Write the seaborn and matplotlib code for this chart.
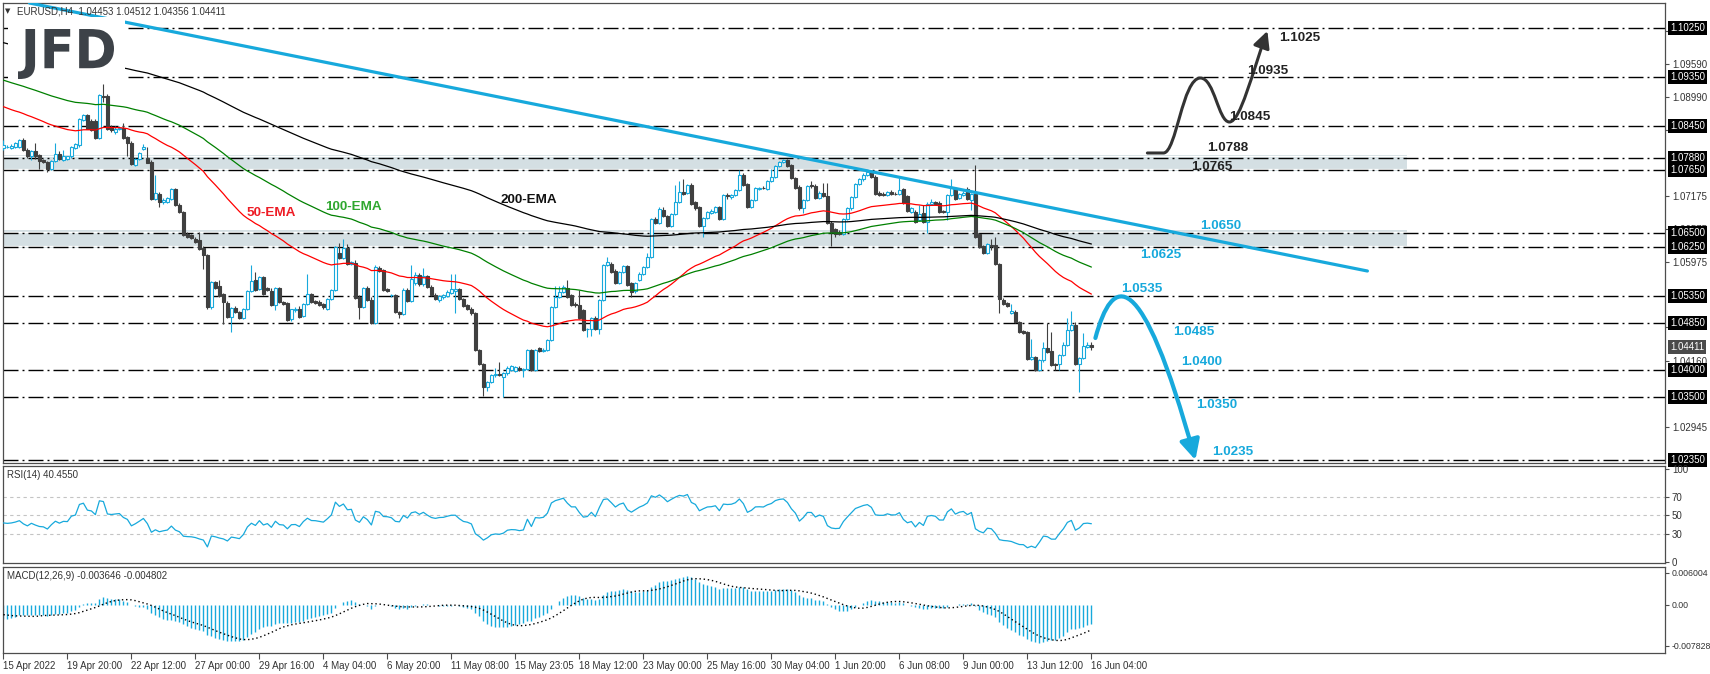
import numpy as np
import pandas as pd
import matplotlib
matplotlib.use("Agg")
import matplotlib.pyplot as plt
import matplotlib.transforms as mtransforms
from matplotlib.path import Path
from matplotlib.patches import FancyArrowPatch, Rectangle, PathPatch
from matplotlib.textpath import TextPath
from matplotlib.font_manager import FontProperties
import seaborn as sns

# ---------------- data (EURUSD H4) ----------------
opens = [
    1.0806,1.0808,1.0806,1.0808,1.0808,1.0821,1.0802,1.0790,1.0800,1.0793,
    1.0783,1.0780,1.0768,1.0782,1.0794,1.0783,1.0786,1.0790,1.0806,1.0811,
    1.0857,1.0865,1.0854,1.0854,1.0824,1.0901,1.0901,1.0844,1.0835,1.0840,
    1.0843,1.0826,1.0814,1.0774,1.0786,1.0804,1.0788,1.0780,1.0713,1.0722,
    1.0707,1.0707,1.0712,1.0730,1.0702,1.0689,1.0649,1.0646,1.0640,1.0637,
    1.0623,1.0610,1.0514,1.0560,1.0553,1.0538,1.0523,1.0497,1.0513,1.0505,
    1.0495,1.0511,1.0544,1.0564,1.0547,1.0569,1.0549,1.0544,1.0518,1.0549,
    1.0524,1.0522,1.0492,1.0509,1.0512,1.0499,1.0521,1.0538,1.0525,1.0524,
    1.0521,1.0512,1.0529,1.0546,1.0613,1.0605,1.0623,1.0594,1.0596,1.0533,
    1.0515,1.0549,1.0528,1.0485,1.0586,1.0582,1.0547,1.0536,1.0536,1.0506,
    1.0502,1.0546,1.0526,1.0558,1.0573,1.0556,1.0571,1.0552,1.0537,1.0528,
    1.0533,1.0535,1.0541,1.0544,1.0547,1.0530,1.0518,1.0512,1.0504,1.0436,
    1.0411,1.0369,1.0378,1.0390,1.0393,1.0387,1.0394,1.0399,1.0398,1.0403,
    1.0399,1.0402,1.0436,1.0399,1.0439,1.0434,1.0436,1.0455,1.0515,1.0533,
    1.0542,1.0549,1.0536,1.0521,1.0518,1.0509,1.0474,1.0475,1.0495,1.0475,
    1.0527,1.0591,1.0594,1.0581,1.0558,1.0579,1.0589,1.0558,1.0544,1.0564,
    1.0576,1.0588,1.0607,1.0675,1.0668,1.0693,1.0681,1.0663,1.0685,1.0707,
    1.0725,1.0724,1.0738,1.0707,1.0698,1.0663,1.0677,1.0687,1.0689,1.0697,
    1.0675,1.0719,1.0716,1.0719,1.0729,1.0756,1.0739,1.0698,1.0710,1.0730,
    1.0733,1.0730,1.0745,1.0753,1.0772,1.0780,1.0783,1.0774,1.0751,1.0735,
    1.0695,1.0711,1.0738,1.0736,1.0715,1.0724,1.0718,1.0668,1.0657,1.0652,
    1.0648,1.0675,1.0695,1.0716,1.0739,1.0748,1.0757,1.0762,1.0753,1.0724,
    1.0722,1.0719,1.0725,1.0722,1.0722,1.0730,1.0718,1.0689,1.0689,1.0674,
    1.0686,1.0671,1.0704,1.0707,1.0705,1.0691,1.0689,1.0719,1.0732,1.0715,
    1.0719,1.0730,1.0711,1.0722,1.0648,1.0626,1.0613,1.0628,1.0628,1.0593,
    1.0528,1.0522,1.0504,1.0506,1.0488,1.0471,1.0469,1.0420,1.0424,1.0399,
    1.0417,1.0439,1.0434,1.0410,1.0411,1.0427,1.0445,1.0472,1.0481,1.0411,
    1.0422,1.0442,1.04453]
highs = [
    1.0820,1.0811,1.0812,1.0816,1.0822,1.0823,1.0805,1.0802,1.0814,1.0795,
    1.0786,1.0782,1.0784,1.0814,1.0800,1.0802,1.0791,1.0810,1.0814,1.0860,
    1.0868,1.0868,1.0858,1.0858,1.0904,1.0922,1.0904,1.0848,1.0845,1.0846,
    1.0851,1.0828,1.0818,1.0787,1.0798,1.0812,1.0808,1.0783,1.0757,1.0725,
    1.0714,1.0716,1.0732,1.0733,1.0705,1.0691,1.0652,1.0649,1.0643,1.0652,
    1.0626,1.0612,1.0562,1.0563,1.0564,1.0540,1.0526,1.0515,1.0516,1.0508,
    1.0513,1.0546,1.0592,1.0578,1.0572,1.0572,1.0551,1.0550,1.0551,1.0552,
    1.0526,1.0524,1.0512,1.0514,1.0516,1.0523,1.0576,1.0541,1.0527,1.0528,
    1.0523,1.0531,1.0548,1.0627,1.0631,1.0640,1.0630,1.0598,1.0600,1.0536,
    1.0551,1.0553,1.0533,1.0592,1.0589,1.0585,1.0549,1.0539,1.0538,1.0508,
    1.0549,1.0549,1.0591,1.0578,1.0577,1.0586,1.0574,1.0555,1.0540,1.0537,
    1.0538,1.0545,1.0575,1.0576,1.0549,1.0532,1.0520,1.0514,1.0506,1.0438,
    1.0413,1.0380,1.0392,1.0404,1.0415,1.0396,1.0406,1.0408,1.0407,1.0406,
    1.0404,1.0438,1.0438,1.0438,1.0442,1.0440,1.0457,1.0517,1.0553,1.0553,
    1.0555,1.0565,1.0538,1.0524,1.0546,1.0512,1.0477,1.0497,1.0498,1.0530,
    1.0593,1.0607,1.0597,1.0584,1.0581,1.0591,1.0592,1.0561,1.0561,1.0578,
    1.0590,1.0613,1.0677,1.0680,1.0697,1.0697,1.0683,1.0687,1.0738,1.0746,
    1.0748,1.0740,1.0741,1.0709,1.0700,1.0679,1.0691,1.0694,1.0699,1.0700,
    1.0722,1.0724,1.0722,1.0731,1.0765,1.0759,1.0741,1.0712,1.0734,1.0735,
    1.0736,1.0747,1.0768,1.0774,1.0782,1.0786,1.0786,1.0776,1.0753,1.0737,
    1.0713,1.0738,1.0745,1.0739,1.0727,1.0741,1.0741,1.0672,1.0660,1.0655,
    1.0677,1.0697,1.0718,1.0741,1.0750,1.0759,1.0765,1.0766,1.0756,1.0727,
    1.0725,1.0727,1.0728,1.0725,1.0750,1.0733,1.0720,1.0697,1.0693,1.0701,
    1.0701,1.0706,1.0713,1.0709,1.0708,1.0693,1.0721,1.0748,1.0735,1.0723,
    1.0726,1.0734,1.0723,1.0774,1.0651,1.0629,1.0632,1.0640,1.0642,1.0595,
    1.0531,1.0524,1.0521,1.0509,1.0490,1.0473,1.0471,1.0457,1.0426,1.0419,
    1.0451,1.0486,1.0469,1.0412,1.0429,1.0451,1.0494,1.0507,1.0488,1.0424,
    1.0467,1.0450,1.04512]
lows = [
    1.0802,1.0806,1.0804,1.0806,1.0806,1.0800,1.0788,1.0783,1.0786,1.0768,
    1.0778,1.0761,1.0766,1.0780,1.0783,1.0781,1.0784,1.0788,1.0804,1.0808,
    1.0854,1.0840,1.0836,1.0822,1.0822,1.0890,1.0838,1.0834,1.0832,1.0838,
    1.0822,1.0790,1.0774,1.0772,1.0784,1.0802,1.0778,1.0711,1.0711,1.0698,
    1.0704,1.0705,1.0710,1.0699,1.0686,1.0645,1.0641,1.0639,1.0632,1.0619,
    1.0585,1.0512,1.0512,1.0548,1.0533,1.0483,1.0495,1.0469,1.0503,1.0493,
    1.0493,1.0509,1.0542,1.0544,1.0545,1.0537,1.0544,1.0516,1.0509,1.0522,
    1.0519,1.0489,1.0490,1.0506,1.0495,1.0496,1.0519,1.0522,1.0521,1.0517,
    1.0512,1.0509,1.0527,1.0544,1.0603,1.0603,1.0592,1.0592,1.0530,1.0492,
    1.0513,1.0526,1.0483,1.0483,1.0579,1.0544,1.0542,1.0533,1.0504,1.0494,
    1.0500,1.0524,1.0524,1.0555,1.0553,1.0554,1.0550,1.0534,1.0528,1.0524,
    1.0530,1.0533,1.0539,1.0503,1.0528,1.0514,1.0510,1.0501,1.0434,1.0408,
    1.0352,1.0362,1.0375,1.0387,1.0388,1.0350,1.0391,1.0397,1.0396,1.0398,
    1.0387,1.0400,1.0397,1.0397,1.0432,1.0432,1.0434,1.0453,1.0513,1.0531,
    1.0540,1.0531,1.0516,1.0515,1.0492,1.0470,1.0460,1.0462,1.0472,1.0465,
    1.0525,1.0589,1.0577,1.0556,1.0556,1.0577,1.0553,1.0533,1.0540,1.0562,
    1.0574,1.0586,1.0605,1.0666,1.0666,1.0679,1.0661,1.0661,1.0683,1.0705,
    1.0720,1.0722,1.0702,1.0693,1.0661,1.0643,1.0675,1.0685,1.0687,1.0673,
    1.0673,1.0713,1.0712,1.0717,1.0727,1.0736,1.0696,1.0696,1.0708,1.0728,
    1.0730,1.0728,1.0743,1.0751,1.0770,1.0778,1.0770,1.0748,1.0731,1.0693,
    1.0686,1.0709,1.0733,1.0713,1.0713,1.0716,1.0666,1.0626,1.0643,1.0646,
    1.0646,1.0673,1.0693,1.0714,1.0737,1.0746,1.0755,1.0750,1.0719,1.0717,
    1.0717,1.0717,1.0719,1.0719,1.0720,1.0703,1.0689,1.0687,1.0669,1.0672,
    1.0669,1.0650,1.0702,1.0702,1.0687,1.0686,1.0674,1.0717,1.0711,1.0713,
    1.0717,1.0711,1.0693,1.0641,1.0622,1.0611,1.0611,1.0619,1.0591,1.0504,
    1.0518,1.0514,1.0502,1.0486,1.0467,1.0465,1.0417,1.0418,1.0398,1.0397,
    1.0415,1.0431,1.0406,1.0399,1.0399,1.0425,1.0443,1.0470,1.0409,1.0359,
    1.0420,1.0440,1.04356]
closes = [
    1.0811,1.0808,1.0810,1.0814,1.0820,1.0802,1.0790,1.0800,1.0790,1.0782,
    1.0780,1.0768,1.0782,1.0794,1.0785,1.0791,1.0790,1.0808,1.0812,1.0858,
    1.0865,1.0841,1.0838,1.0824,1.0902,1.0899,1.0841,1.0838,1.0841,1.0843,
    1.0824,1.0814,1.0776,1.0785,1.0796,1.0808,1.0779,1.0713,1.0724,1.0707,
    1.0711,1.0714,1.0730,1.0701,1.0688,1.0647,1.0643,1.0641,1.0634,1.0621,
    1.0610,1.0514,1.0560,1.0550,1.0535,1.0524,1.0497,1.0513,1.0505,1.0495,
    1.0511,1.0544,1.0562,1.0546,1.0570,1.0539,1.0546,1.0518,1.0549,1.0524,
    1.0521,1.0491,1.0511,1.0512,1.0497,1.0521,1.0538,1.0524,1.0523,1.0519,
    1.0515,1.0529,1.0546,1.0625,1.0605,1.0623,1.0594,1.0597,1.0532,1.0515,
    1.0549,1.0528,1.0485,1.0588,1.0581,1.0546,1.0544,1.0536,1.0506,1.0502,
    1.0546,1.0526,1.0566,1.0573,1.0556,1.0571,1.0552,1.0536,1.0530,1.0535,
    1.0536,1.0542,1.0547,1.0547,1.0530,1.0516,1.0512,1.0503,1.0436,1.0410,
    1.0369,1.0378,1.0390,1.0393,1.0390,1.0394,1.0404,1.0406,1.0405,1.0400,
    1.0402,1.0436,1.0399,1.0436,1.0434,1.0437,1.0455,1.0515,1.0533,1.0542,
    1.0552,1.0533,1.0518,1.0518,1.0494,1.0472,1.0475,1.0495,1.0475,1.0527,
    1.0591,1.0597,1.0579,1.0558,1.0579,1.0589,1.0555,1.0542,1.0559,1.0576,
    1.0588,1.0607,1.0675,1.0668,1.0694,1.0681,1.0663,1.0685,1.0707,1.0725,
    1.0722,1.0738,1.0704,1.0695,1.0663,1.0677,1.0689,1.0691,1.0697,1.0675,
    1.0719,1.0717,1.0719,1.0729,1.0756,1.0738,1.0698,1.0710,1.0732,1.0733,
    1.0732,1.0745,1.0753,1.0772,1.0780,1.0783,1.0772,1.0750,1.0733,1.0695,
    1.0711,1.0736,1.0736,1.0715,1.0724,1.0718,1.0668,1.0652,1.0648,1.0649,
    1.0675,1.0695,1.0716,1.0739,1.0748,1.0757,1.0762,1.0752,1.0721,1.0719,
    1.0719,1.0725,1.0721,1.0721,1.0729,1.0705,1.0691,1.0695,1.0671,1.0685,
    1.0671,1.0704,1.0707,1.0704,1.0689,1.0689,1.0719,1.0732,1.0713,1.0721,
    1.0724,1.0713,1.0721,1.0643,1.0624,1.0613,1.0630,1.0626,1.0593,1.0530,
    1.0520,1.0516,1.0508,1.0488,1.0469,1.0467,1.0419,1.0424,1.0399,1.0417,
    1.0439,1.0433,1.0408,1.0408,1.0427,1.0445,1.0472,1.0481,1.0411,1.0422,
    1.0443,1.0445,1.04411]

x_label_pos = [0, 16, 32, 48, 64, 80, 96, 112, 128, 144, 160, 176, 192, 208, 224, 240, 256, 272]
x_labels = ["15 Apr 2022", "19 Apr 20:00", "22 Apr 12:00", "27 Apr 00:00", "29 Apr 16:00",
            "4 May 04:00", "6 May 20:00", "11 May 08:00", "15 May 23:05", "18 May 12:00",
            "23 May 00:00", "25 May 16:00", "30 May 04:00", "1 Jun 20:00", "6 Jun 08:00",
            "9 Jun 00:00", "13 Jun 12:00", "16 Jun 04:00"]

levels = [1.1025, 1.0935, 1.0845, 1.0788, 1.0765, 1.0650, 1.0625, 1.0535, 1.0485, 1.0400, 1.0350, 1.0235]
level_axis_labels = ["1.10250", "1.09350", "1.08450", "1.07880", "1.07650", "1.06500", "1.06250",
                     "1.05350", "1.04850", "1.04000", "1.03500", "1.02350"]
level_texts = ["1.1025", "1.0935", "1.0845", "1.0788", "1.0765", "1.0650", "1.0625",
               "1.0535", "1.0485", "1.0400", "1.0350", "1.0235"]
zones = [(1.0765, 1.0788), (1.0625, 1.0650)]
price_axis_ticks = [1.10190, 1.09590, 1.08990, 1.08390, 1.07175, 1.06575, 1.05975, 1.04780, 1.04160, 1.02945]
price_axis_labels = ["", "1.09590", "1.08990", "", "1.07175", "1.06575", "1.05975",
                     "", "1.04160", "1.02945"]
last_price = 1.04411
trend_idx = [6.5, 341.0]
trend_price = [1.10707, 1.05806]

ema_periods = [50, 100, 200]
ema_seeds = [1.0884, 1.0932, 1.1000]
rsi_period = 14
rsi_seed = (1.0806, 0.0009, 0.0013)        # previous close, avg gain, avg loss
macd_seeds = (1.0815, 1.0845, -0.0018)     # EMA12, EMA26, prior MACD for the signal SMA

# ---------------- indicators ----------------
c_arr = np.array(closes)
o_arr = np.array(opens)
h_arr = np.array(highs)
l_arr = np.array(lows)
n = len(closes)
idx = np.arange(n)


def ema(vals, period, seed):
    a = 2.0 / (period + 1)
    out, e = [], seed
    for v in vals:
        e = e + a * (v - e)
        out.append(e)
    return np.array(out)


def rsi(vals, period, seed):
    prev, ag, al = seed
    out = []
    for v in vals:
        ch = v - prev
        ag = (ag * (period - 1) + max(ch, 0)) / period
        al = (al * (period - 1) + max(-ch, 0)) / period
        out.append(100 - 100 / (1 + ag / al))
        prev = v
    return np.array(out)


emas = [ema(c_arr, p, s) for p, s in zip(ema_periods, ema_seeds)]
rsi_vals = rsi(c_arr, rsi_period, rsi_seed)
macd_main = ema(c_arr, 12, macd_seeds[0]) - ema(c_arr, 26, macd_seeds[1])
padded = np.concatenate([np.full(8, macd_seeds[2]), macd_main])
macd_signal = np.array([padded[i:i + 9].mean() for i in range(n)])

df = pd.DataFrame({"idx": idx, "ema50": emas[0], "ema100": emas[1], "ema200": emas[2],
                   "rsi": rsi_vals, "signal": macd_signal})

# ---------------- figure ----------------
sns.set_style("white")
plt.rcParams["font.family"] = ["Liberation Sans", "DejaVu Sans"]

W, H = 1710, 674
fig = plt.figure(figsize=(W / 100, H / 100), dpi=100)


def rect(x0, y0, x1, y1):
    return [x0 / W, 1 - y1 / H, (x1 - x0) / W, (y1 - y0) / H]


ax = fig.add_axes(rect(3, 3, 1665, 463))
ax_rsi = fig.add_axes(rect(3, 466, 1665, 563))
ax_macd = fig.add_axes(rect(3, 567, 1665, 653))

XL = (-0.1, 415.4)
BLUE = "#17a9dc"
DARK = "#404040"
SPINE = "#4d4d4d"
TXT = "#333333"
PX = 1 / 5468.0  # price per pixel in the main pane


def px2i(px):
    return (px - 3) / 4.0


def py2p(py):
    return 1.1025 - (py - 28) * PX


for a in (ax, ax_rsi, ax_macd):
    a.set_xlim(*XL)
    for s in a.spines.values():
        s.set_color(SPINE)
        s.set_linewidth(0.9)
    a.yaxis.tick_right()
    a.tick_params(axis="y", length=3, width=0.8, pad=2, labelsize=7, labelcolor=TXT, color=SPINE)
    a.tick_params(axis="x", bottom=False, labelbottom=False)
    a.grid(False)

ax.set_ylim(1.02295, 1.10707)

# zones
zone_right = px2i(1407)
for lo, hi in zones:
    ax.add_patch(Rectangle((XL[0], lo - PX), zone_right - XL[0], (hi - lo) + 4 * PX,
                           facecolor="#d4dfe3", edgecolor="none", zorder=1))
    for lv in (lo, hi):
        ax.hlines(lv + 1.2 * PX, XL[0], zone_right, color="white", lw=0.9, zorder=1.5)

# horizontal levels
for lv in levels:
    ax.axhline(lv, color="black", lw=1.0, ls=(0, (10.8, 2.9, 1.4, 2.9)), zorder=2)

# candles
up = c_arr >= o_arr
dn = ~up
ax.vlines(idx[up], l_arr[up], h_arr[up], color=BLUE, lw=0.8, zorder=3)
ax.vlines(idx[dn], l_arr[dn], h_arr[dn], color=DARK, lw=0.8, zorder=3)
body_lo = np.minimum(o_arr, c_arr)
body_h = np.maximum(np.abs(c_arr - o_arr), 0.00002)
ax.bar(idx[up], body_h[up], bottom=body_lo[up], width=0.55, facecolor="white",
       edgecolor=BLUE, linewidth=0.8, zorder=4)
ax.bar(idx[dn], body_h[dn], bottom=body_lo[dn], width=0.55, facecolor=DARK,
       edgecolor=DARK, linewidth=0.8, zorder=4)

# EMAs
for col, colr in zip(["ema50", "ema100", "ema200"], ["#ff0000", "#008000", "#000000"]):
    sns.lineplot(data=df, x="idx", y=col, ax=ax, color=colr, lw=0.9, zorder=5)

# trendline
sns.lineplot(x=trend_idx, y=trend_price, ax=ax, color=BLUE, lw=2.3, zorder=6)

ax.set_xlabel("")
ax.set_ylabel("")

# EMA labels
lab_font = dict(fontsize=9.7, fontweight="bold", ha="center", va="center", zorder=8)
ax.text(px2i(271), py2p(213), "50-EMA", color="#ee1c25", **lab_font)
ax.text(px2i(353), py2p(207), "100-EMA", color="#2fa72f", **lab_font)
ax.text(px2i(528), py2p(200), "200-EMA", color="#111111", **lab_font)

# scenario labels
label_pos = [(1279, 38), (1247, 71), (1229, 117), (1207, 148), (1191, 167), (1200, 226),
             (1140, 255), (1121, 289), (1173, 332), (1181, 362), (1196, 405), (1212, 452)]
for k, (txt, (px, py)) in enumerate(zip(level_texts, label_pos)):
    ax.text(px2i(px), py2p(py), txt, color=("#222222" if k < 5 else BLUE),
            fontsize=9.7, fontweight="bold", ha="left", va="center", zorder=8)

# scenario arrows
blue_pts = [(1095, 338), (1112, 275), (1140, 262), (1195, 460)]
blue_path = Path([(px2i(x), py2p(y)) for x, y in blue_pts],
                 [Path.MOVETO, Path.CURVE4, Path.CURVE4, Path.CURVE4])
ax.add_patch(FancyArrowPatch(path=blue_path, arrowstyle="-|>,head_length=0.6,head_width=0.3",
                             mutation_scale=20, color=BLUE, lw=3.0, zorder=7))
black_pts = [(1147, 153), (1163, 153),
             (1176, 153), (1182, 78), (1200, 78),
             (1214, 78), (1218, 122), (1229, 122),
             (1240, 122), (1252, 72), (1267, 31)]
black_codes = [Path.MOVETO, Path.LINETO] + [Path.CURVE4] * 9
black_path = Path([(px2i(x), py2p(y)) for x, y in black_pts], black_codes)
ax.add_patch(FancyArrowPatch(path=black_path, arrowstyle="-|>,head_length=0.5,head_width=0.25",
                             mutation_scale=20, color="#333333", lw=2.2, zorder=7))

# right price axis
ax.set_yticks(price_axis_ticks)
ax.set_yticklabels(price_axis_labels)
trans = mtransforms.blended_transform_factory(ax.transAxes, ax.transData)
xlab = (1670 - 3) / 1662.0
for lv, lab in zip(levels, level_axis_labels):
    ax.text(xlab, lv, lab, transform=trans, color="white", fontsize=7, ha="left", va="center",
            bbox=dict(boxstyle="square,pad=0.2", fc="black", ec="none"), clip_on=False, zorder=9)
ax.text(xlab, last_price, f"{last_price:.5f}", transform=trans, color="white", fontsize=7,
        ha="left", va="center", bbox=dict(boxstyle="square,pad=0.2", fc="#4a4a4a", ec="none"),
        clip_on=False, zorder=9)

# ---------------- RSI pane ----------------
ax_rsi.set_ylim(-1.4, 103.5)
for lv in (70, 50, 30):
    ax_rsi.axhline(lv, color="#c4c4c4", lw=0.8, ls=(0, (3, 3)), zorder=1)
sns.lineplot(data=df, x="idx", y="rsi", ax=ax_rsi, color=BLUE, lw=0.9, zorder=3)
ax_rsi.set_yticks([100, 70, 50, 30, 0])
ax_rsi.set_yticklabels(["100", "70", "50", "30", "0"])
ax_rsi.set_xlabel("")
ax_rsi.set_ylabel("")

# ---------------- MACD pane ----------------
ax_macd.set_ylim(-0.00919, 0.00713)
ax_macd.vlines(idx, 0, macd_main, color=BLUE, lw=1.0, zorder=2)
sns.lineplot(data=df, x="idx", y="signal", ax=ax_macd, color="black", lw=1.0,
             linestyle=(0, (1, 2)), zorder=3)
ax_macd.set_yticks([0.006004, 0.0, -0.007828])
ax_macd.set_yticklabels(["0.006004", "0.00", "-0.007828"])
ax_macd.tick_params(axis="y", labelsize=6.3, pad=1.5)
ax_macd.set_xlabel("")
ax_macd.set_ylabel("")
ax_macd.set_xticks(x_label_pos)
ax_macd.set_xticklabels(x_labels)
ax_macd.tick_params(axis="x", bottom=True, labelbottom=True, length=4, width=0.8,
                    color=SPINE, labelsize=7, labelcolor=TXT, pad=1.5)
for t in ax_macd.get_xticklabels():
    t.set_ha("left")

# ---------------- texts & logo ----------------
fig.text(8 / W, 1 - 11 / H, "\u25bc", fontsize=5, family="DejaVu Sans", color=TXT,
         ha="center", va="center")
fig.text(17 / W, 1 - 11 / H, "EURUSD,H4  1.04453 1.04512 1.04356 1.04411", fontsize=7,
         color=TXT, ha="left", va="center")
fig.text(7 / W, 1 - 475 / H, "RSI(14) 40.4550", fontsize=7, color=TXT, ha="left", va="center")
fig.text(7 / W, 1 - 576 / H, "MACD(12,26,9) -0.003646 -0.004802", fontsize=7, color=TXT,
         ha="left", va="center")

fig.add_artist(Rectangle((8, H - 81), 117, 64, facecolor="white", edgecolor="none",
                         transform=mtransforms.IdentityTransform(), zorder=9))
tp = TextPath((0, 0), "JFD", size=100, prop=FontProperties(family="DejaVu Sans", weight="bold"))
ext = tp.get_extents()
tr = (mtransforms.Affine2D().translate(-ext.x0, -ext.y0)
      .scale(96 / ext.width, 50 / ext.height).translate(18, H - 79))
fig.add_artist(PathPatch(tr.transform_path(tp), facecolor="#3d4248", edgecolor="none",
                         transform=mtransforms.IdentityTransform(), zorder=10))

fig.savefig("out.png", dpi=100)
